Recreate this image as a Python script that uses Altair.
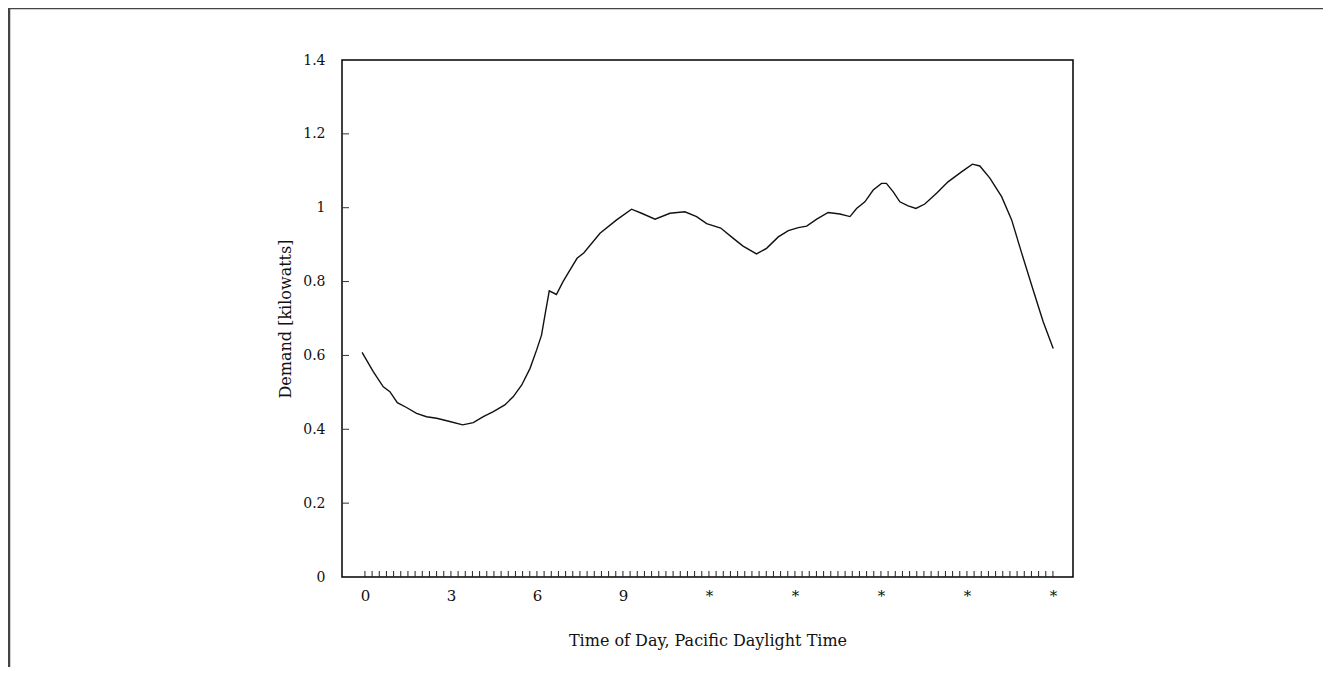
import altair as alt
import pandas as pd

# Demand curve (hour of day, kW)
hours = [-0.1, 0.29, 0.64, 0.87, 1.13, 1.45, 1.80, 2.15, 2.50, 2.96, 3.41, 3.78,
         4.13, 4.48, 4.88, 5.17, 5.47, 5.76, 5.99, 6.16, 6.28, 6.43, 6.68, 6.91,
         7.15, 7.40, 7.64, 8.20, 8.78, 9.30, 9.65, 10.12, 10.64, 11.16, 11.57,
         11.92, 12.41, 12.85, 13.19, 13.66, 14.01, 14.42, 14.77, 15.12, 15.41,
         15.76, 16.16, 16.57, 16.92, 17.15, 17.44, 17.73, 18.02, 18.19, 18.43,
         18.66, 18.95, 19.22, 19.53, 19.94, 20.34, 20.81, 21.19, 21.45, 21.80,
         22.21, 22.56, 22.91, 23.31, 23.66, 24.01]
demand = [0.608, 0.556, 0.515, 0.502, 0.472, 0.459, 0.443, 0.434, 0.430, 0.421,
          0.412, 0.418, 0.434, 0.448, 0.466, 0.488, 0.520, 0.565, 0.615, 0.655,
          0.709, 0.775, 0.765, 0.800, 0.831, 0.863, 0.878, 0.931, 0.967, 0.996,
          0.985, 0.969, 0.985, 0.989, 0.976, 0.957, 0.945, 0.917, 0.896, 0.875,
          0.890, 0.921, 0.938, 0.946, 0.950, 0.969, 0.987, 0.983, 0.976, 0.998,
          1.016, 1.048, 1.066, 1.066, 1.043, 1.016, 1.005, 0.998, 1.010, 1.039,
          1.070, 1.097, 1.118, 1.113, 1.080, 1.030, 0.967, 0.877, 0.777, 0.691,
          0.619]

x_tick_values = [0, 3, 6, 9, 12, 15, 18, 21, 24]
y_tick_values = [0, 0.2, 0.4, 0.6, 0.8, 1.0, 1.2, 1.4]
y_inner_ticks = [0.2, 0.4, 0.6, 0.8, 1.0, 1.2]
minor_ticks = [i * 0.25 for i in range(0, 97)]  # quarter-hour tick marks

FONT = "DejaVu Serif"
W, H = 731, 517

df = pd.DataFrame({"hour": hours, "demand": demand})
xscale = alt.Scale(domain=[-0.8, 24.7], nice=False, zero=False)
yscale = alt.Scale(domain=[0, 1.4], nice=False)

x_axis = alt.Axis(values=x_tick_values, title="Time of Day, Pacific Daylight Time",
                  labelExpr="datum.value >= 12 ? '*' : datum.label",
                  labelFontSize=15, labelPadding=11, tickSize=0, ticks=False,
                  domain=False, grid=False, titleFontSize=16, titlePadding=29,
                  labelFont=FONT, titleFont=FONT, titleFontWeight="normal",
                  labelColor="#111", titleColor="#111")
y_axis = alt.Axis(values=y_tick_values, title="Demand [kilowatts]",
                  labelExpr="datum.value == 0 ? '0' : datum.value == 1 ? '1' : datum.label",
                  labelFontSize=14, labelPadding=17, tickSize=0, ticks=False,
                  domain=False, grid=False, titleFontSize=16, titlePadding=9,
                  labelFont=FONT, titleFont=FONT, titleFontWeight="normal",
                  labelColor="#111", titleColor="#111")

line = alt.Chart(df).mark_line(color="#111", strokeWidth=1.4).encode(
    x=alt.X("hour:Q", scale=xscale, axis=x_axis),
    y=alt.Y("demand:Q", scale=yscale, axis=y_axis),
)

xt = alt.Chart(pd.DataFrame({"t": minor_ticks})).mark_rule(color="#222", strokeWidth=1).encode(
    x=alt.X("t:Q", scale=xscale),
    y=alt.value(H - 6),
    y2=alt.value(H),
)

yt = alt.Chart(pd.DataFrame({"v": y_inner_ticks})).mark_rule(color="#333", strokeWidth=1).encode(
    y=alt.Y("v:Q", scale=yscale),
    x=alt.value(0),
    x2=alt.value(7),
)

one = pd.DataFrame({"a": [0]})
border_left = alt.Chart(one).mark_rule(color="#444", strokeWidth=2.5).encode(
    x=alt.value(-333), y=alt.value(-52), y2=alt.value(640)
)
border_top = alt.Chart(one).mark_rule(color="#444", strokeWidth=2.5).encode(
    x=alt.value(-334), x2=alt.value(1000), y=alt.value(-52)
)

chart = alt.layer(line, xt, yt, border_left, border_top).properties(
    width=W, height=H,
    autosize=alt.AutoSizeParams(type="none"),
    padding={"left": 334, "top": 52, "right": 250, "bottom": 90},
    background="white",
).configure_view(stroke="black", strokeWidth=1.5)

chart.save("out.html", embed_options={"renderer": "svg", "actions": False})
